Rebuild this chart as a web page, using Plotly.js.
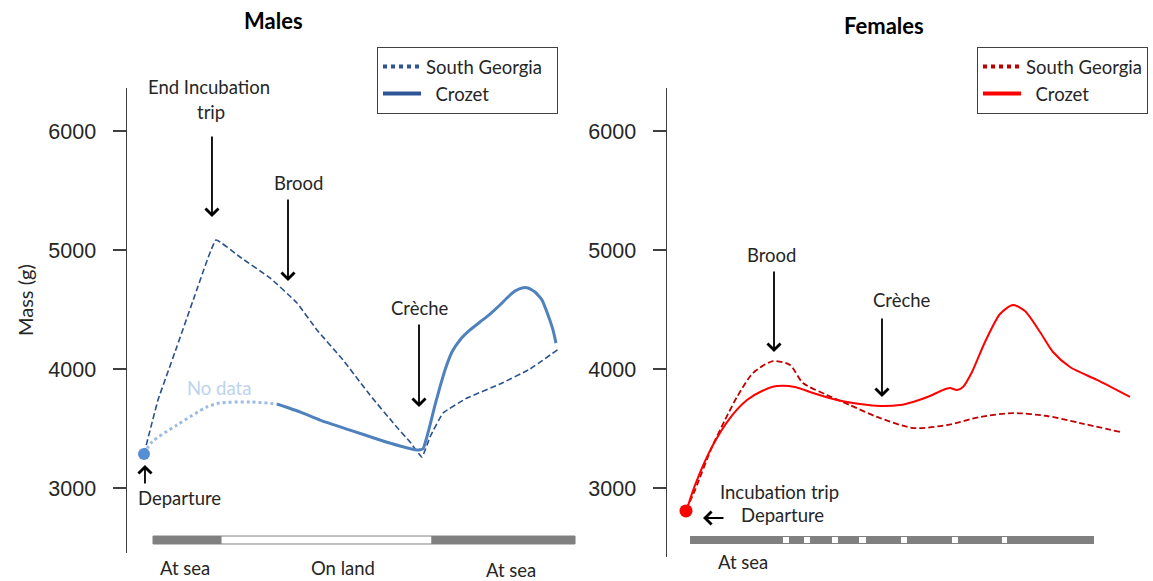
<!DOCTYPE html>
<html>
<head>
<meta charset="utf-8">
<script src="https://cdn.plot.ly/plotly-3.0.1.min.js"></script>
<style>html,body{margin:0;padding:0;background:#fff;}#chart{width:1153px;height:581px;}</style>
</head>
<body>
<div id="chart"></div>
<script>
// ---- Data (time index 0-100 per panel, mass in g) ----
const yTicks = [3000, 4000, 5000, 6000];

// Males
const maleSGx = [3.75, 6.84, 10.60, 15.01, 19.65, 24.94, 31.57, 37.53, 41.94, 47.68, 53.64, 59.16, 62.47, 65.12, 66.89, 69.76, 75.06, 82.34, 88.96, 95.58];
const maleSGy = [3286, 3739, 4143, 4622, 5084, 4941, 4765, 4555, 4328, 4076, 3781, 3529, 3387, 3260, 3429, 3630, 3756, 3874, 4000, 4176];
const maleCrozetX = [33.11, 38.19, 42.60, 49.23, 55.85, 60.26, 64.02, 65.34, 66.00, 66.89, 67.99, 69.09, 70.20, 71.74, 73.51, 75.72, 77.92, 80.13, 82.34, 84.11, 85.65, 87.20, 88.52, 90.07, 91.61, 92.94, 94.04, 94.70];
const maleCrozetY = [3706, 3639, 3571, 3487, 3403, 3353, 3319, 3328, 3403, 3529, 3697, 3849, 3992, 4143, 4244, 4328, 4395, 4462, 4538, 4605, 4655, 4681, 4681, 4647, 4580, 4454, 4328, 4218];
const maleNoDataX = [3.75, 5.52, 11.04, 17.66, 20.53, 27.15, 33.11];
const maleNoDataY = [3286, 3387, 3529, 3681, 3714, 3723, 3706];
const maleDepartX = [3.75];
const maleDepartY = [3286];

// Females
const femSGx = [4.19, 6.18, 9.93, 12.80, 15.45, 18.98, 23.40, 27.15, 30.02, 35.32, 40.40, 46.36, 54.30, 61.81, 69.09, 76.38, 83.89, 91.17, 100.0];
const femSGy = [2815, 2983, 3345, 3571, 3765, 3966, 4067, 4034, 3882, 3781, 3697, 3597, 3504, 3529, 3597, 3630, 3605, 3546, 3471];
const femCrozetX = [4.19, 6.18, 10.15, 13.91, 17.66, 20.97, 24.28, 28.26, 32.23, 37.53, 42.60, 47.02, 51.43, 54.30, 58.06, 60.93, 62.47, 64.02, 65.34, 67.33, 70.20, 73.51, 76.38, 79.03, 82.34, 85.21, 88.96, 94.92, 102.2];
const femCrozetY = [2798, 3025, 3361, 3588, 3739, 3815, 3857, 3849, 3798, 3739, 3706, 3689, 3697, 3723, 3773, 3824, 3840, 3824, 3849, 3975, 4227, 4462, 4538, 4487, 4311, 4143, 4017, 3908, 3765];
const femDepartX = [4.19];
const femDepartY = [2807];

// Activity timelines (start, end on the time index)
const malePhaseLabels = ["At sea", "On land", "At sea"];
const malePhaseStart = [5.74, 20.75, 67.33];
const malePhaseEnd = [20.75, 67.33, 98.90];
const femPhaseLabels = ["At sea"];
const femPhaseStart = [5.08];
const femPhaseEnd = [94.26];
const femLandStart = [25.61, 30.24, 36.42, 42.38, 51.66, 62.91, 73.95];
const femLandEnd = [26.93, 31.57, 37.75, 43.93, 52.98, 64.24, 75.06];

// Event arrows: x, tip and tail mass
const maleEvents = [
  {x: 18.76, tip: 5277, tail: 5966},
  {x: 35.54, tip: 4739, tail: 5437},
  {x: 64.46, tip: 3681, tail: 4387}
];
const maleEventLabels = [
  {t: "Brood", x: 37.75, y: 5563},
  {t: "Crèche", x: 64.68, y: 4513},
  {t: "Departure", x: 11.48, y: 2916}
];
const femEvents = [
  {x: 23.62, tip: 4143, tail: 4832},
  {x: 47.46, tip: 3765, tail: 4437}
];
const femEventLabels = [
  {t: "Brood", x: 22.96, y: 4958},
  {t: "Crèche", x: 51.88, y: 4580},
  {t: "Incubation trip", x: 24.94, y: 2966},
  {t: "Departure", x: 25.39, y: 2773}
];
// labels placed on the page (outside the axis ranges): [text, px x, px y]
const pageLabels = [
  ["End Incubation", 209, 87],
  ["trip", 211, 112],
  ["At sea", 185, 568],
  ["On land", 343, 568],
  ["At sea", 511, 570],
  ["At sea", 743, 562]
];

// ---- Styles ----
const FONT = "Lato, 'Open Sans', sans-serif";
const TXT = "#262626";
const GREY = "#808080";
const FS = 18.5;
const barY = 2563, barH = 67;
const W = 1153, H = 581;

const traces = [];

// timeline bars
traces.push({
  type: "bar", orientation: "h", xaxis: "x", yaxis: "y",
  base: malePhaseStart, x: malePhaseEnd.map((e, i) => e - malePhaseStart[i]),
  y: malePhaseStart.map(() => barY), width: malePhaseStart.map(() => barH),
  marker: {color: [GREY, "#ffffff", GREY], line: {color: GREY, width: 1}},
  showlegend: false, hoverinfo: "skip"
});
traces.push({
  type: "bar", orientation: "h", xaxis: "x2", yaxis: "y2",
  base: femPhaseStart, x: femPhaseEnd.map((e, i) => e - femPhaseStart[i]),
  y: femPhaseStart.map(() => barY), width: femPhaseStart.map(() => barH),
  marker: {color: GREY, line: {width: 0}},
  showlegend: false, hoverinfo: "skip"
});
traces.push({
  type: "bar", orientation: "h", xaxis: "x2", yaxis: "y2",
  base: femLandStart, x: femLandEnd.map((e, i) => e - femLandStart[i]),
  y: femLandStart.map(() => barY), width: femLandStart.map(() => 50),
  marker: {color: "#ffffff", line: {width: 0}},
  showlegend: false, hoverinfo: "skip"
});

// Males lines
traces.push({x: maleNoDataX, y: maleNoDataY, xaxis: "x", yaxis: "y", mode: "lines",
  line: {color: "#9DBCE3", width: 3, dash: "3px,3px", shape: "spline", smoothing: 0.8},
  showlegend: false, hoverinfo: "skip"});
traces.push({x: maleSGx, y: maleSGy, xaxis: "x", yaxis: "y", mode: "lines",
  line: {color: "#2A518C", width: 1.6, dash: "6px,3px", shape: "spline", smoothing: 0.3},
  showlegend: false, hoverinfo: "skip"});
traces.push({x: maleCrozetX, y: maleCrozetY, xaxis: "x", yaxis: "y", mode: "lines",
  line: {color: "#4F81BD", width: 3, shape: "spline", smoothing: 0.4},
  showlegend: false, hoverinfo: "skip"});
traces.push({x: maleDepartX, y: maleDepartY, xaxis: "x", yaxis: "y", mode: "markers",
  marker: {color: "#558ED5", size: 12}, showlegend: false, hoverinfo: "skip"});

// Females lines
traces.push({x: femSGx, y: femSGy, xaxis: "x2", yaxis: "y2", mode: "lines",
  line: {color: "#C00000", width: 1.8, dash: "6px,3px", shape: "spline", smoothing: 0.7},
  showlegend: false, hoverinfo: "skip"});
traces.push({x: femCrozetX, y: femCrozetY, xaxis: "x2", yaxis: "y2", mode: "lines",
  line: {color: "#FF0000", width: 2, shape: "spline", smoothing: 0.7},
  showlegend: false, hoverinfo: "skip"});
traces.push({x: femDepartX, y: femDepartY, xaxis: "x2", yaxis: "y2", mode: "markers",
  marker: {color: "#FF0000", size: 13}, showlegend: false, hoverinfo: "skip"});

// legend entries
traces.push({x: [null], y: [null], xaxis: "x", yaxis: "y", mode: "lines", name: "South Georgia\u00a0\u00a0",
  line: {color: "#2F5597", width: 4, dash: "dot"}, legend: "legend"});
traces.push({x: [null], y: [null], xaxis: "x", yaxis: "y", mode: "lines", name: "\u00a0\u00a0Crozet",
  line: {color: "#2F5597", width: 4}, legend: "legend"});
traces.push({x: [null], y: [null], xaxis: "x2", yaxis: "y2", mode: "lines", name: "South Georgia",
  line: {color: "#C00000", width: 4, dash: "dot"}, legend: "legend2"});
traces.push({x: [null], y: [null], xaxis: "x2", yaxis: "y2", mode: "lines", name: "\u00a0\u00a0Crozet",
  line: {color: "#FF0000", width: 4}, legend: "legend2"});

// ---- annotations ----
const ann = [];
function arrow(xr, yr, x, y, ax, ay) {
  ann.push({xref: xr, yref: yr, axref: xr, ayref: yr, x: x, y: y, ax: ax, ay: ay, text: "",
    showarrow: true, arrowhead: 4, arrowsize: 1.4, arrowwidth: 1.8, arrowcolor: "#000"});
}
function label(xr, yr, t, x, y, color, size) {
  ann.push({xref: xr, yref: yr, x: x, y: y, text: t, showarrow: false, xanchor: "center", yanchor: "middle",
    font: {family: FONT, size: size || FS, color: color || TXT}});
}
maleEvents.forEach(e => arrow("x", "y", e.x, e.tip, e.x, e.tail));
arrow("x", "y", 3.97, 3193, 3.97, 3025); // departure (males)
maleEventLabels.forEach(l => label("x", "y", l.t, l.x, l.y));
label("x", "y", "No data", 20.31, 3840, "#BDD3EE");
femEvents.forEach(e => arrow("x2", "y2", e.x, e.tip, e.x, e.tail));
arrow("x2", "y2", 7.95, 2748, 12.8, 2748); // departure (females)
femEventLabels.forEach(l => label("x2", "y2", l.t, l.x, l.y));
pageLabels.forEach(p => label("paper", "paper", p[0], p[1] / W, 1 - p[2] / H));

ann.push({xref: "paper", yref: "paper", x: 273 / W, y: 1 - 20 / H, text: "<b>Males</b>", showarrow: false,
  xanchor: "center", yanchor: "middle", font: {family: FONT, size: 22, color: "#000"}});
ann.push({xref: "paper", yref: "paper", x: 884 / W, y: 1 - 25 / H, text: "<b>Females</b>", showarrow: false,
  xanchor: "center", yanchor: "middle", font: {family: FONT, size: 22, color: "#000"}});
ann.push({xref: "paper", yref: "paper", x: 25 / W, y: 1 - 300 / H, text: "Mass (g)", showarrow: false,
  textangle: -90, xanchor: "center", yanchor: "middle", font: {family: FONT, size: 20, color: TXT}});

const yAxisBase = {
  tickvals: yTicks, ticktext: yTicks.map(String), showgrid: false, zeroline: false, showline: true,
  linecolor: "#404040", linewidth: 1.5, ticks: "outside", ticklen: 13, tickwidth: 1.5, tickcolor: "#404040",
  tickfont: {family: "'Liberation Sans', Arial, sans-serif", size: 21.5, color: TXT}, ticklabelstandoff: 12,
  fixedrange: true
};
const legendBase = {
  xanchor: "left", yanchor: "top", bgcolor: "#fff", bordercolor: "#404040", borderwidth: 1,
  font: {family: FONT, size: FS, color: TXT}, tracegroupgap: 0, itemwidth: 38
};

const layout = {
  width: W, height: H, margin: {l: 0, r: 0, t: 0, b: 0},
  paper_bgcolor: "#fff", plot_bgcolor: "rgba(0,0,0,0)",
  barmode: "overlay", showlegend: true,
  xaxis: {domain: [127 / W, 580 / W], range: [0, 100], visible: false, fixedrange: true},
  xaxis2: {domain: [667 / W, 1140 / W], range: [0, 473 / 4.53], visible: false, fixedrange: true},
  yaxis: Object.assign({}, yAxisBase, {domain: [28 / H, 493 / H], range: [2453.8, 6361.3], anchor: "x"}),
  yaxis2: Object.assign({}, yAxisBase, {domain: [24 / H, 493 / H], range: [2420.2, 6361.3], anchor: "x2"}),
  legend: Object.assign({}, legendBase, {x: 377 / W, y: 1 - 47 / H}),
  legend2: Object.assign({}, legendBase, {x: 977 / W, y: 1 - 47 / H}),
  annotations: ann
};

Plotly.newPlot("chart", traces, layout, {displayModeBar: false, staticPlot: true});
</script>
</body>
</html>
